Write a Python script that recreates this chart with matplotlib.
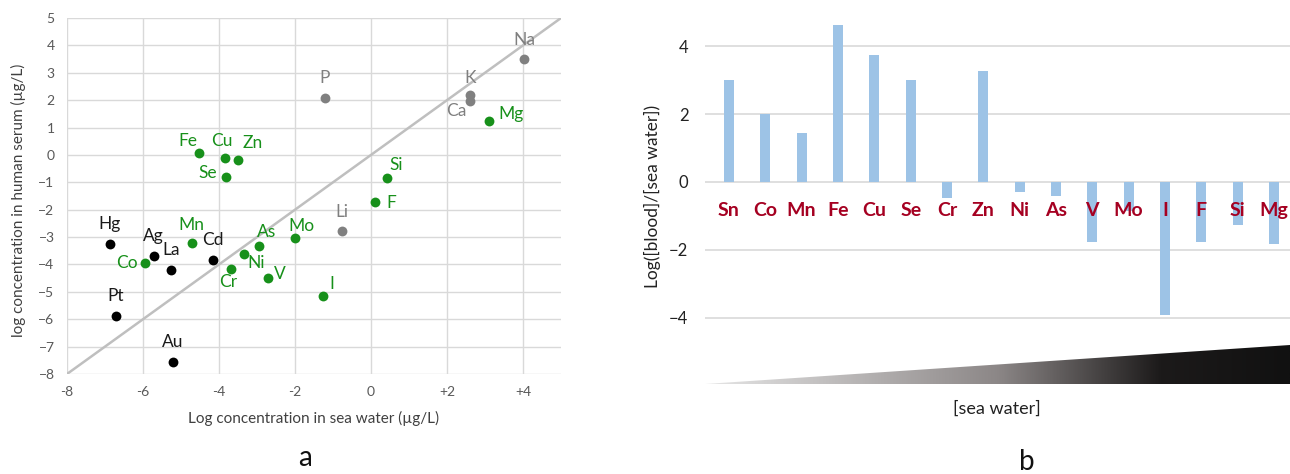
"""Two-panel figure: serum vs sea water concentrations (a) and their log ratio (b)."""

import matplotlib

matplotlib.use("Agg")
import matplotlib.pyplot as plt
import numpy as np
from matplotlib.colors import LinearSegmentedColormap
from matplotlib.patches import Polygon

plt.rcParams["font.family"] = ["Lato", "DejaVu Sans"]

# panel a: log10 concentrations (µg/L)
green_el = ["Fe", "Cu", "Zn", "Se", "Si", "F", "Mg", "Mn", "Co", "As", "Ni", "Cr", "V", "Mo", "I"]
green_sea = [-4.53, -3.85, -3.49, -3.82, 0.43, 0.10, 3.11, -4.72, -5.94, -2.94, -3.33, -3.69, -2.72, -2.01, -1.26]
green_serum = [0.07, -0.12, -0.18, -0.80, -0.86, -1.71, 1.24, -3.22, -3.96, -3.33, -3.63, -4.16, -4.51, -3.02, -5.16]

gray_el = ["Na", "K", "Ca", "P", "Li"]
gray_sea = [4.03, 2.60, 2.61, -1.22, -0.76]
gray_serum = [3.50, 2.18, 1.97, 2.08, -2.78]

black_el = ["Hg", "Ag", "La", "Cd", "Pt", "Au"]
black_sea = [-6.87, -5.72, -5.27, -4.17, -6.72, -5.21]
black_serum = [-3.25, -3.70, -4.20, -3.82, -5.87, -7.55]

# label offsets from each dot, data units
label_offset = {
    "Na": (0, 0.70), "K": (0, 0.64), "Ca": (-0.37, -0.37), "Mg": (0.58, 0.27),
    "P": (0, 0.74), "Fe": (-0.30, 0.43), "Cu": (-0.08, 0.62), "Zn": (0.37, 0.62),
    "Se": (-0.48, 0.13), "Si": (0.24, 0.50), "F": (0.43, -0.06), "Li": (0, 0.70),
    "Mo": (0.17, 0.43), "Hg": (0, 0.71), "Ag": (0, 0.74), "La": (0, 0.71),
    "Co": (-0.49, 0), "Mn": (0, 0.65), "Cd": (0, 0.72), "As": (0.20, 0.51),
    "Ni": (0.31, -0.32), "Cr": (-0.08, -0.49), "V": (0.32, 0.16), "I": (0.22, 0.44),
    "Pt": (0, 0.72), "Au": (0, 0.72),
}

# panel b: log([blood]/[sea water])
ratio_el = ["Sn", "Co", "Mn", "Fe", "Cu", "Se", "Cr", "Zn", "Ni", "As", "V", "Mo", "I", "F", "Si", "Mg"]
ratio_val = [3.0, 2.0, 1.45, 4.61, 3.74, 3.0, -0.48, 3.28, -0.30, -0.42, -1.78, -0.85, -3.91, -1.78, -1.26, -1.83]

W, H = 1290, 474
fig = plt.figure(figsize=(W / 100, H / 100), dpi=100)


def box(left, top, right, bottom):
    return [left / W, 1 - bottom / H, (right - left) / W, (bottom - top) / H]


# ---- panel a ----
ax = fig.add_axes(box(67, 18, 561, 374))
ax.set_xlim(-8, 5)
ax.set_ylim(-8, 5)
ax.set_xticks(range(-8, 5, 2))
ax.set_xticklabels(["-8", "-6", "-4", "-2", "0", "+2", "+4"])
ax.set_yticks(range(-8, 6))
for s in ax.spines.values():
    s.set_visible(False)
ax.grid(color="#d9d9d9", lw=1.0)
ax.set_axisbelow(True)
ax.tick_params(length=0, labelsize=10, labelcolor="#595959", pad=9)
ax.plot([-8, 5], [-8, 5], color="#bfbfbf", lw=1.8, zorder=2)

groups = [
    (green_el, green_sea, green_serum, "#17901a", "#17901a"),
    (gray_el, gray_sea, gray_serum, "#808080", "#7f7f7f"),
    (black_el, black_sea, black_serum, "#000000", "#1a1a1a"),
]
for names, xs, ys, dot_c, txt_c in groups:
    ax.scatter(xs, ys, s=50, color=dot_c, zorder=3, linewidths=0)
    for name, x, y in zip(names, xs, ys):
        dx, dy = label_offset[name]
        ax.text(x + dx, y + dy, name, color=txt_c, fontsize=12.5, ha="center", va="center", zorder=4)

fig.text(18 / W, 1 - 200 / H, "log concentration in human serum (µg/L)", rotation=90,
         ha="center", va="center", fontsize=11, color="#404040")
fig.text(314 / W, 1 - 418 / H, "Log concentration in sea water (µg/L)",
         ha="center", va="center", fontsize=11, color="#404040")
fig.text(305 / W, 1 - 458 / H, "a", ha="center", va="center", fontsize=20, color="#111111")

# ---- panel b ----
bx = fig.add_axes(box(705, 19, 1290, 338))
pos = np.arange(len(ratio_el))
bx.bar(pos, ratio_val, width=0.28, color="#9dc3e6", zorder=2)
bx.set_xlim(-0.66, 15.44)
bx.set_ylim(-4.6, 4.8)
bx.set_yticks([-4, -2, 0, 2, 4])
bx.set_xticks([])
for s in bx.spines.values():
    s.set_visible(False)
bx.yaxis.grid(True, color="#d9d9d9", lw=1.2)
bx.set_axisbelow(True)
bx.tick_params(length=0, labelsize=12, labelcolor="#222222", pad=12)
for p, name in zip(pos, ratio_el):
    bx.text(p, -0.85, name, color="#a50021", fontsize=14, fontweight="bold",
            ha="center", va="center", zorder=3)

fig.text(652 / W, 1 - 196 / H, "Log([blood]/[sea water])", rotation=90,
         ha="center", va="center", fontsize=12.5, color="#222222")

# gradient wedge under panel b
wx = fig.add_axes(box(705, 345, 1290, 384))
wx.set_xlim(0, 1)
wx.set_ylim(0, 1)
wx.axis("off")
cmap = LinearSegmentedColormap.from_list(
    "wedge", [(0, "#e6e6e6"), (0.5, "#8c8787"), (0.78, "#1c1a1a"), (1, "#111111")])
img = wx.imshow(np.linspace(0, 1, 256)[None, :], cmap=cmap, aspect="auto",
                extent=[0, 1, 0, 1], zorder=1)
tri = Polygon([[0, 0], [1, 0], [1, 1]], closed=True, transform=wx.transData)
img.set_clip_path(tri)

fig.text(997 / W, 1 - 409 / H, "[sea water]", ha="center", va="center", fontsize=13, color="#222222")
fig.text(1027 / W, 1 - 462 / H, "b", ha="center", va="center", fontsize=20, color="#111111")

fig.savefig("out.png", dpi=100)
